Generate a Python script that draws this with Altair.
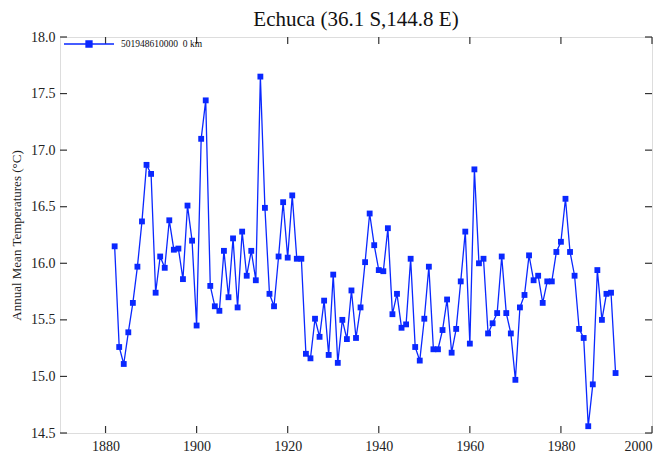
import altair as alt
import pandas as pd

years = list(range(1882, 1993))
temps = [
    16.15, 15.26, 15.11, 15.39, 15.65, 15.97, 16.37, 16.87, 16.79, 15.74,
    16.06, 15.96, 16.38, 16.12, 16.13, 15.86, 16.51, 16.20, 15.45, 17.10,
    17.44, 15.80, 15.62, 15.58, 16.11, 15.70, 16.22, 15.61, 16.28, 15.89,
    16.11, 15.85, 17.65, 16.49, 15.73, 15.62, 16.06, 16.54, 16.05, 16.60,
    16.04, 16.04, 15.20, 15.16, 15.51, 15.35, 15.67, 15.19, 15.90, 15.12,
    15.50, 15.33, 15.76, 15.34, 15.61, 16.01, 16.44, 16.16, 15.94, 15.93,
    16.31, 15.55, 15.73, 15.43, 15.46, 16.04, 15.26, 15.14, 15.51, 15.97,
    15.24, 15.24, 15.41, 15.68, 15.21, 15.42, 15.84, 16.28, 15.29, 16.83,
    16.00, 16.04, 15.38, 15.47, 15.56, 16.06, 15.56, 15.38, 14.97, 15.61,
    15.72, 16.07, 15.85, 15.89, 15.65, 15.84, 15.84, 16.10, 16.19, 16.57,
    16.10, 15.89, 15.42, 15.34, 14.56, 14.93, 15.94, 15.50, 15.73, 15.74,
    15.03,
]
series_name = "501948610000\u00a0\u00a00 km"
x_ticks = [1880, 1900, 1920, 1940, 1960, 1980, 2000]
y_ticks = [14.5, 15.0, 15.5, 16.0, 16.5, 17.0, 17.5, 18.0]

df = pd.DataFrame({"year": years, "temp": temps, "series": series_name})
xt = pd.DataFrame({"year": x_ticks})
yt = pd.DataFrame({"temp": y_ticks})

W, H = 592, 396
BLUE = "#0a28ff"
FONT = "Liberation Serif"

xscale = alt.Scale(domain=[1870, 2000], nice=False, zero=False)
yscale = alt.Scale(domain=[14.5, 18.0], nice=False, zero=False)

xaxis = alt.Axis(values=x_ticks, format="d", ticks=False, domain=False, grid=False,
                 labelFont=FONT, labelFontSize=14, labelColor="#222", labelPadding=6,
                 title=None)
yaxis = alt.Axis(values=y_ticks, format=".1f", ticks=False, domain=False, grid=False,
                 labelFont=FONT, labelFontSize=14, labelColor="#222", labelPadding=5,
                 title="Annual Mean Temperatures (\u00b0C)", titleFont=FONT,
                 titleFontSize=13, titleFontWeight="normal", titleColor="#222",
                 titleX=-44, titleBaseline="middle")

legend = alt.Legend(
    title=None, orient="none", legendX=3, legendY=-19, padding=0,
    symbolType="M-1,0L1,0M-0.12,-0.12L0.12,-0.12L0.12,0.12L-0.12,0.12Z",
    symbolSize=2500, symbolStrokeWidth=1.3, symbolFillColor=BLUE, symbolStrokeColor=BLUE,
    labelFont=FONT, labelFontSize=9.5, labelColor="#111", labelOffset=6,
)

color = alt.Color("series:N", scale=alt.Scale(range=[BLUE]), legend=legend)

line = alt.Chart(df).mark_line(strokeWidth=1.3).encode(
    x=alt.X("year:Q", scale=xscale, axis=xaxis),
    y=alt.Y("temp:Q", scale=yscale, axis=yaxis),
    color=color,
)
pts = alt.Chart(df).mark_point(shape="square", filled=True, size=34, opacity=1).encode(
    x=alt.X("year:Q", scale=xscale),
    y=alt.Y("temp:Q", scale=yscale),
    color=alt.Color("series:N", scale=alt.Scale(range=[BLUE]), legend=None),
)

tick_col = "#333"
ytick_left = alt.Chart(yt).mark_rule(color=tick_col, strokeWidth=1.2).encode(
    y=alt.Y("temp:Q", scale=yscale), x=alt.value(0), x2=alt.value(7))
ytick_right = alt.Chart(yt).mark_rule(color=tick_col, strokeWidth=1.2).encode(
    y=alt.Y("temp:Q", scale=yscale), x=alt.value(W - 7), x2=alt.value(W))
xtick_bot = alt.Chart(xt).mark_rule(color=tick_col, strokeWidth=1.2).encode(
    x=alt.X("year:Q", scale=xscale), y=alt.value(H - 7), y2=alt.value(H))
xtick_top = alt.Chart(xt).mark_rule(color=tick_col, strokeWidth=1.2).encode(
    x=alt.X("year:Q", scale=xscale), y=alt.value(0), y2=alt.value(7))

chart = alt.layer(ytick_left, ytick_right, xtick_bot, xtick_top, line, pts).properties(
    width=W, height=H,
    title=alt.TitleParams("Echuca (36.1 S,144.8 E)", font=FONT, fontSize=21,
                          fontWeight="normal", color="#111", anchor="middle", offset=1, dy=13),
    autosize=alt.AutoSizeParams(type="none"),
    padding={"left": 52, "top": 29, "right": 11, "bottom": 21},
).configure_view(stroke="#333", strokeWidth=1.5).configure(background="white")

chart.save("out.html", embed_options={"renderer": "svg", "actions": False})
